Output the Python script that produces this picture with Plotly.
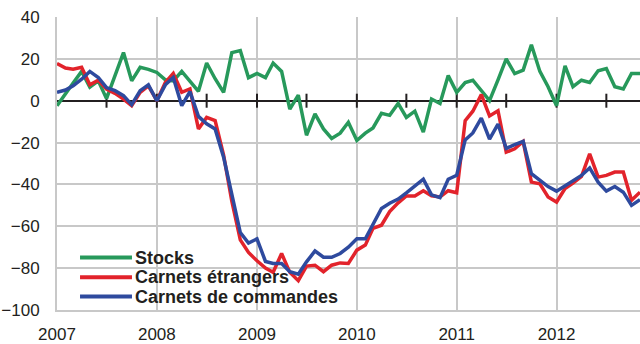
import pandas as pd
import plotly.graph_objects as go

# Monthly balances of opinion, January 2007 onwards
stocks = [
    -2.4, 3, 8.5, 14, 6.5, 9.5, 1, 12, 23, 9.5, 16, 15,
    13.5, 10, 9.5, 14, 9.5, 4.5, 18, 10.5, 4, 23, 24, 11,
    13, 11, 18, 14, -4, 2.7, -16.5, -6.3, -13.5, -18, -15.5, -10.3,
    -19, -15.5, -13, -6, -7, -1.3, -8, -5, -15, 0.8, -1.3, 12,
    4, 8.7, 9.8, 5, 0, 10, 20, 13, 14.6, 26.7, 14, 6.7,
    -2.4, 16.7, 6.7, 9.8, 8.7, 14.3, 15.4, 6.7, 5.6, 13, 13,
]
carnets_etrangers = [
    17.8, 15.6, 15, 16, 7.6, 9.8, 5.6, 3.5, 0.8, -2.4, 4, 7.1,
    0, 8.7, 13, 4, 5.6, -13.5, -8, -9.5, -26, -48, -66.5, -72.5,
    -76.5, -80, -82, -73, -82, -86, -79, -78.6, -81.7, -78.6, -77.5, -77.8,
    -71.4, -69, -61, -59.5, -53, -48.8, -45.5, -45.5, -43, -45.4, -46, -43,
    -44, -9.5, -5, 2.9, -7.3, -4.8, -24.6, -23, -19.5, -38.9, -39.7, -46,
    -48.4, -42, -39.4, -36.2, -25.4, -36.5, -35.7, -34.1, -34.1, -47.6, -43.7,
]
carnets_commandes = [
    4, 5.1, 7.1, 10.3, 14, 11.1, 6.3, 4.8, 2.4, -1.9, 4.8, 7.6,
    0, 7.6, 11.1, -2.4, 4.4, -7.5, -11, -13.5, -27, -45, -63, -68,
    -66, -76.8, -77.8, -77.8, -81.7, -82.9, -77, -71.8, -74.8, -74.8, -73, -70,
    -66, -66, -59.5, -51.5, -49, -47, -44, -41, -37.5, -45, -46.3, -37.5,
    -35.6, -18.7, -15.4, -8.3, -18.3, -11.2, -22.8, -21, -19.4, -34.9, -38.1, -41,
    -43.2, -40.5, -38.4, -35.7, -32.1, -38.9, -43.2, -41, -43.7, -50, -47.3,
]

series_names = ["Stocks", "Carnets étrangers", "Carnets de commandes"]
series_colors = ["#27995b", "#e2232b", "#2e4a9e"]
year_labels = ["2007", "2008", "2009", "2010", "2011", "2012"]

months = pd.date_range("2007-01-01", periods=len(stocks), freq="MS")
half_years = pd.date_range("2007-07-01", "2012-07-01", freq="6MS")

TEXT = "#231f20"
GRID = "#c8c8c8"
FONT = "Liberation Sans, Arial, sans-serif"

fig = go.Figure()

# small tick marks crossing the zero line every six months
fig.add_trace(go.Scatter(
    x=half_years, y=[0] * len(half_years), mode="markers",
    marker=dict(symbol="line-ns", size=10, line=dict(width=2, color=TEXT)),
    showlegend=False, hoverinfo="skip",
))

for name, values, color in zip(series_names,
                                [stocks, carnets_etrangers, carnets_commandes],
                                series_colors):
    fig.add_trace(go.Scatter(
        x=months, y=values, mode="lines", name=name,
        line=dict(color=color, width=3.5), showlegend=False,
    ))

# legend block: white panel over the grid, line samples and bold labels
fig.add_shape(type="rect", xref="paper", yref="paper",
              x0=0.0137, x1=0.4957, y0=0.012, y1=0.218,
              fillcolor="white", line=dict(width=0), layer="between")
legend_rows = [0.179, 0.112, 0.046]
for name, color, yy in zip(series_names, series_colors, legend_rows):
    fig.add_shape(type="line", xref="paper", yref="paper",
                  x0=0.0395, x1=0.1286, y0=yy, y1=yy,
                  line=dict(color=color, width=4), layer="above")
    fig.add_annotation(xref="paper", yref="paper", x=0.131, y=yy,
                       xanchor="left", yanchor="middle", showarrow=False,
                       text=f"<b>{name}</b>",
                       font=dict(family=FONT, size=18, color=TEXT))

fig.update_xaxes(
    type="date", range=["2007-01-01", "2012-11-01"],
    tickvals=[f"{y}-01-01" for y in year_labels], ticktext=year_labels,
    showgrid=True, gridcolor=GRID, gridwidth=1.5,
    showline=True, linecolor=GRID, linewidth=2,
    ticks="", ticklabelstandoff=8, automargin=False,
    tickfont=dict(family=FONT, size=17, color=TEXT),
)
fig.update_yaxes(
    range=[-100, 40], tickvals=list(range(-100, 41, 20)),
    showgrid=True, gridcolor=GRID, gridwidth=1.5,
    zeroline=True, zerolinecolor=TEXT, zerolinewidth=2,
    showline=True, linecolor=GRID, linewidth=2,
    ticks="", ticklabelstandoff=12, automargin=False,
    tickfont=dict(family=FONT, size=17, color=TEXT),
)
fig.update_layout(
    width=640, height=344,
    margin=dict(l=57, r=0, t=17, b=34),
    paper_bgcolor="white", plot_bgcolor="white",
    showlegend=False,
)

fig.write_html("out.html")
